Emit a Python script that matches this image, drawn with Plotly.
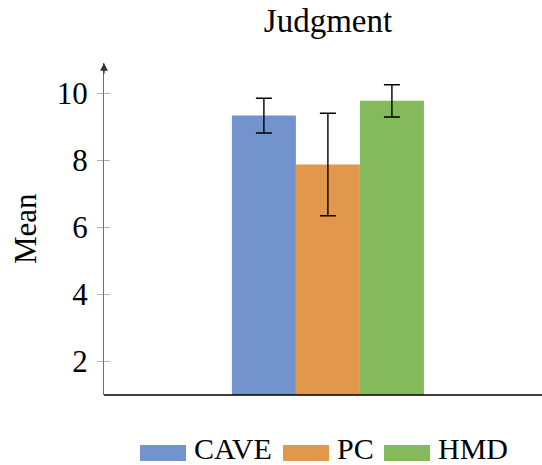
import plotly.graph_objects as go

# ---- data ----
categories = ["Judgment"]
series = ["CAVE", "PC", "HMD"]
means = [9.34, 7.88, 9.78]
errors = [0.52, 1.53, 0.48]
colors = ["#7293CB", "#E1974C", "#84BA5B"]
y_ticks = [2, 4, 6, 8, 10]
y_range = [1, 10.91]

W, H = 542, 465
L, R, T, B = 104, 0, 63, 70
PW, PH = W - L - R, H - T - B
FONT = "Liberation Serif"
FS = 31


def px2x(px):
    return (px - L) / PW


def px2y(py):
    return (H - B - py) / PH


fig = go.Figure()
for s, m, e, c in zip(series, means, errors, colors):
    fig.add_trace(go.Bar(
        x=categories, y=[m], name=s,
        marker=dict(color=c, line=dict(width=0)),
        error_y=dict(type="data", array=[e], color="black", thickness=1.4, width=8),
        showlegend=False, hoverinfo="skip",
    ))

# invisible trace to hold the overlay axis (for crossing tick marks)
fig.add_trace(go.Scatter(x=categories, y=[y_range[0]], yaxis="y2", mode="markers",
                         marker=dict(opacity=0), showlegend=False, hoverinfo="skip"))

fig.update_layout(
    width=W, height=H,
    margin=dict(l=L, r=R, t=T, b=B, pad=0, autoexpand=False),
    paper_bgcolor="white", plot_bgcolor="white",
    barmode="group", bargap=0.53, bargroupgap=0,
    font=dict(family=FONT, size=FS, color="black"),
    title=dict(text="Judgment", x=328 / W, xanchor="center",
               y=1 - 20 / H, yanchor="middle", yref="container",
               font=dict(family=FONT, size=33, color="black")),
    xaxis=dict(type="category", range=[-0.548, 0.524], showticklabels=False, ticks="",
               showline=False, showgrid=False, zeroline=False),
    yaxis=dict(range=y_range, tickvals=y_ticks, ticks="outside", ticklen=6, tickwidth=1.2,
               tickcolor="#b0b0b0", showline=True, linecolor="#707070", linewidth=1.3,
               showgrid=False, zeroline=False, ticklabelstandoff=3,
               tickfont=dict(family=FONT, size=FS, color="black")),
    yaxis2=dict(range=y_range, tickvals=y_ticks, ticks="inside", ticklen=6, tickwidth=1.2,
                tickcolor="#b0b0b0", overlaying="y", side="left", showticklabels=False,
                showline=False, showgrid=False, zeroline=False),
)

# x axis line across the full plot width (runs off the right edge, like the reference)
fig.add_shape(type="line", xref="paper", yref="paper", x0=0, x1=1.1, y0=0, y1=0,
              line=dict(color="black", width=1.3), layer="above")

# y-axis title
fig.add_annotation(text="Mean", xref="paper", yref="paper", x=px2x(25), y=0.5,
                   textangle=-90, showarrow=False, xanchor="center", yanchor="middle",
                   font=dict(family=FONT, size=FS, color="black"))

# arrow head on top of y axis
fig.add_annotation(xref="paper", yref="paper", x=0, y=1, ax=0, ay=12, axref="pixel", ayref="pixel",
                   text="", showarrow=True, arrowhead=2, arrowsize=1.2, arrowwidth=1.3,
                   arrowcolor="#333333")

# custom legend
box_left = [140, 283, 384]
box_w = 46
box_top, box_bot = 445, 461
text_left = [192, 335, 436]
for s, c, bl, tl in zip(series, colors, box_left, text_left):
    fig.add_shape(type="rect", xref="paper", yref="paper",
                  x0=px2x(bl), x1=px2x(bl + box_w), y0=px2y(box_bot), y1=px2y(box_top),
                  fillcolor=c, line=dict(width=0))
    fig.add_annotation(text=s, xref="paper", yref="paper", x=px2x(tl), y=px2y(448),
                       xanchor="left", yanchor="middle", showarrow=False,
                       font=dict(family=FONT, size=30, color="black"))

fig.write_html("out.html", config={"displayModeBar": False},
               post_script="document.body.style.margin='0px';document.body.style.overflow='hidden';")
